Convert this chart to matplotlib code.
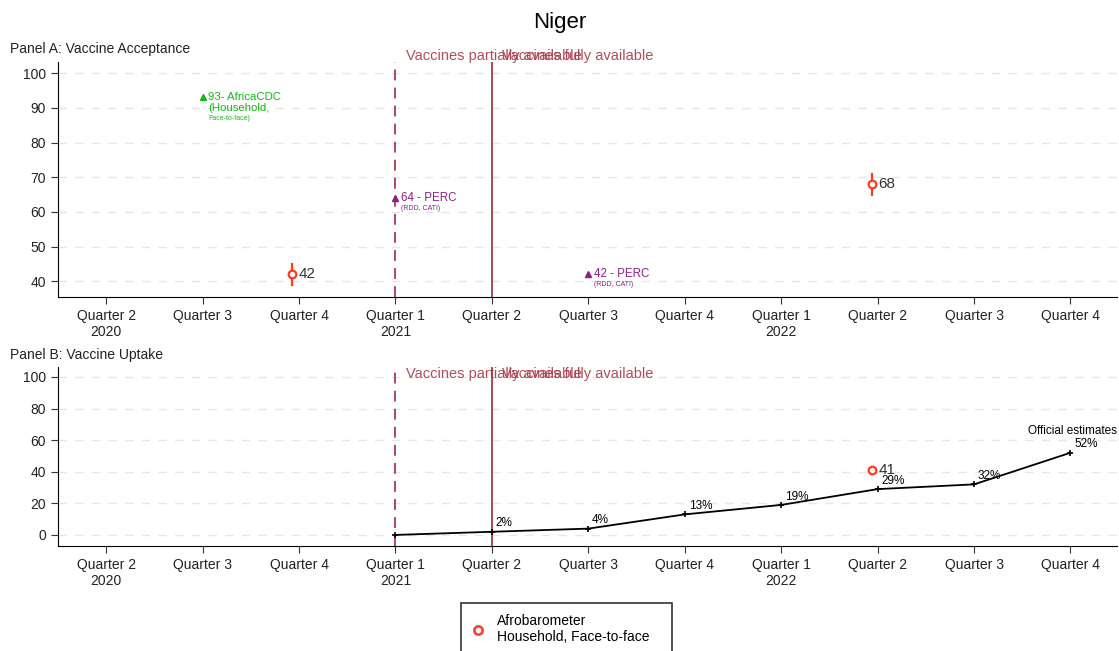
import matplotlib.pyplot as plt

plt.rcParams['font.family'] = ['Liberation Sans', 'DejaVu Sans']

quarters = ["Quarter 2\n2020", "Quarter 3", "Quarter 4", "Quarter 1\n2021", "Quarter 2",
            "Quarter 3", "Quarter 4", "Quarter 1\n2022", "Quarter 2", "Quarter 3", "Quarter 4"]

# Panel A: acceptance
afro_a_x = [1.93, 7.94]
afro_a_y = [42, 68]
afro_a_lo = [39, 65]
afro_a_hi = [45, 71]
cdc_x, cdc_y = 1, 93
perc_x = [3, 5]
perc_y = [64, 42]

# Panel B: uptake
afro_b_x = [7.94]
afro_b_y = [41]
afro_b_lo = [39.5]
afro_b_hi = [42.5]
off_x = [3, 4, 5, 6, 7, 8, 9, 10]
off_y = [0, 2, 4, 13, 19, 29, 32, 52]

partial_q, full_q = 3, 4

red = "#ff3a1f"
green = "#14b814"
purple = "#8e1e8e"
vline_c = "#a83a4a"
txt_c = "#333333"

fig = plt.figure(figsize=(11.19, 6.51), dpi=100)
axA = fig.add_axes([0.0518, 0.5438, 0.9462, 0.361])
axB = fig.add_axes([0.0518, 0.1613, 0.9462, 0.275])

for ax in (axA, axB):
    ax.set_xlim(-0.5, 10.48)
    ax.set_xticks(range(len(quarters)))
    ax.set_xticklabels(quarters, fontsize=10)
    ax.spines["top"].set_visible(False)
    ax.spines["right"].set_visible(False)
    ax.tick_params(axis="both", direction="out", length=5, labelsize=10, color=txt_c,
                   labelcolor="#222222")
    ax.yaxis.grid(True, ls=(0, (6, 6)), color="#e6e6e6", lw=1)
    ax.set_axisbelow(True)
    ax.axvline(partial_q, color=vline_c, ls=(0, (6, 4)), lw=1.3)
    ax.axvline(full_q, color=vline_c, ls="-", lw=1.3)

axA.set_ylim(35.5, 103.2)
axA.set_yticks(range(40, 101, 10))
axB.set_ylim(-7, 106.3)
axB.set_yticks(range(0, 101, 20))

# vline labels
for ax, y in ((axA, 104.8), (axB, 101.8)):
    ax.text(partial_q + 0.11, y, "Vaccines partially available", color=vline_c, fontsize=10.5,
            va="center", ha="left", clip_on=False, alpha=0.9)
    ax.text(full_q + 0.10, y, "Vaccines fully available", color=vline_c, fontsize=10.5,
            va="center", ha="left", clip_on=False, alpha=0.9)

# Panel A marks
for x, y, lo, hi in zip(afro_a_x, afro_a_y, afro_a_lo, afro_a_hi):
    axA.plot([x, x], [lo, hi], color=red, lw=1.6, zorder=3)
    axA.plot(x, y, "o", mfc="white", mec=red, mew=1.6, ms=5.5, zorder=4)
    axA.text(x + 0.07, y, str(y), fontsize=11, color=txt_c, va="center")

axA.plot(cdc_x, cdc_y, "^", color=green, ms=5)
axA.text(cdc_x + 0.06, cdc_y, "93- AfricaCDC", fontsize=8.2, color=green, va="center")
axA.text(cdc_x + 0.06, cdc_y - 3.2, "(Household,", fontsize=8.2, color=green, va="center")
axA.text(cdc_x + 0.06, cdc_y - 6.0, "Face-to-face)", fontsize=5, color=green, va="center")

for x, y in zip(perc_x, perc_y):
    axA.plot(x, y, "^", color=purple, ms=5)
    axA.text(x + 0.06, y, f"{y} - PERC", fontsize=8.3, color=purple, va="center")
    axA.text(x + 0.06, y - 3, "(RDD, CATI)", fontsize=5, color=purple, va="center")

# Panel B marks
axB.plot(off_x, off_y, "-", color="black", lw=1.3, marker="+", ms=4, mew=1.2)
for x, y in zip(off_x[1:], off_y[1:]):
    axB.text(x + 0.04, y + 1.5, f"{y}%", fontsize=8.5, ha="left", va="bottom")
axB.text(off_x[-1] + 0.02, off_y[-1] + 10, "Official estimates", fontsize=8.5, ha="center",
         va="bottom")

for x, y, lo, hi in zip(afro_b_x, afro_b_y, afro_b_lo, afro_b_hi):
    axB.plot([x, x], [lo, hi], color=red, lw=1.6, zorder=3)
    axB.plot(x, y, "o", mfc="white", mec=red, mew=1.6, ms=5.5, zorder=4)
    axB.text(x + 0.07, y, str(y), fontsize=11, color=txt_c, va="center")

fig.text(0.5, 0.966, "Niger", fontsize=16, ha="center", va="center")
fig.text(0.009, 0.925, "Panel A: Vaccine Acceptance", fontsize=10, ha="left", va="center",
         color="#222222")
fig.text(0.009, 0.455, "Panel B: Vaccine Uptake", fontsize=10, ha="left", va="center",
         color="#222222")

# legend
leg_handle, = axB.plot([], [], "o", mfc="white", mec=red, mew=1.8, ms=6, ls="none")
leg = fig.legend([leg_handle], ["Afrobarometer\nHousehold, Face-to-face   "], loc="upper left",
                 bbox_to_anchor=(0.412, 0.073), frameon=True, fancybox=False, edgecolor="black",
                 fontsize=10, handletextpad=0.95, borderpad=0.75, handlelength=0.9,
                 borderaxespad=0)
leg.get_frame().set_linewidth(1.2)

fig.savefig("out.png", dpi=100)
